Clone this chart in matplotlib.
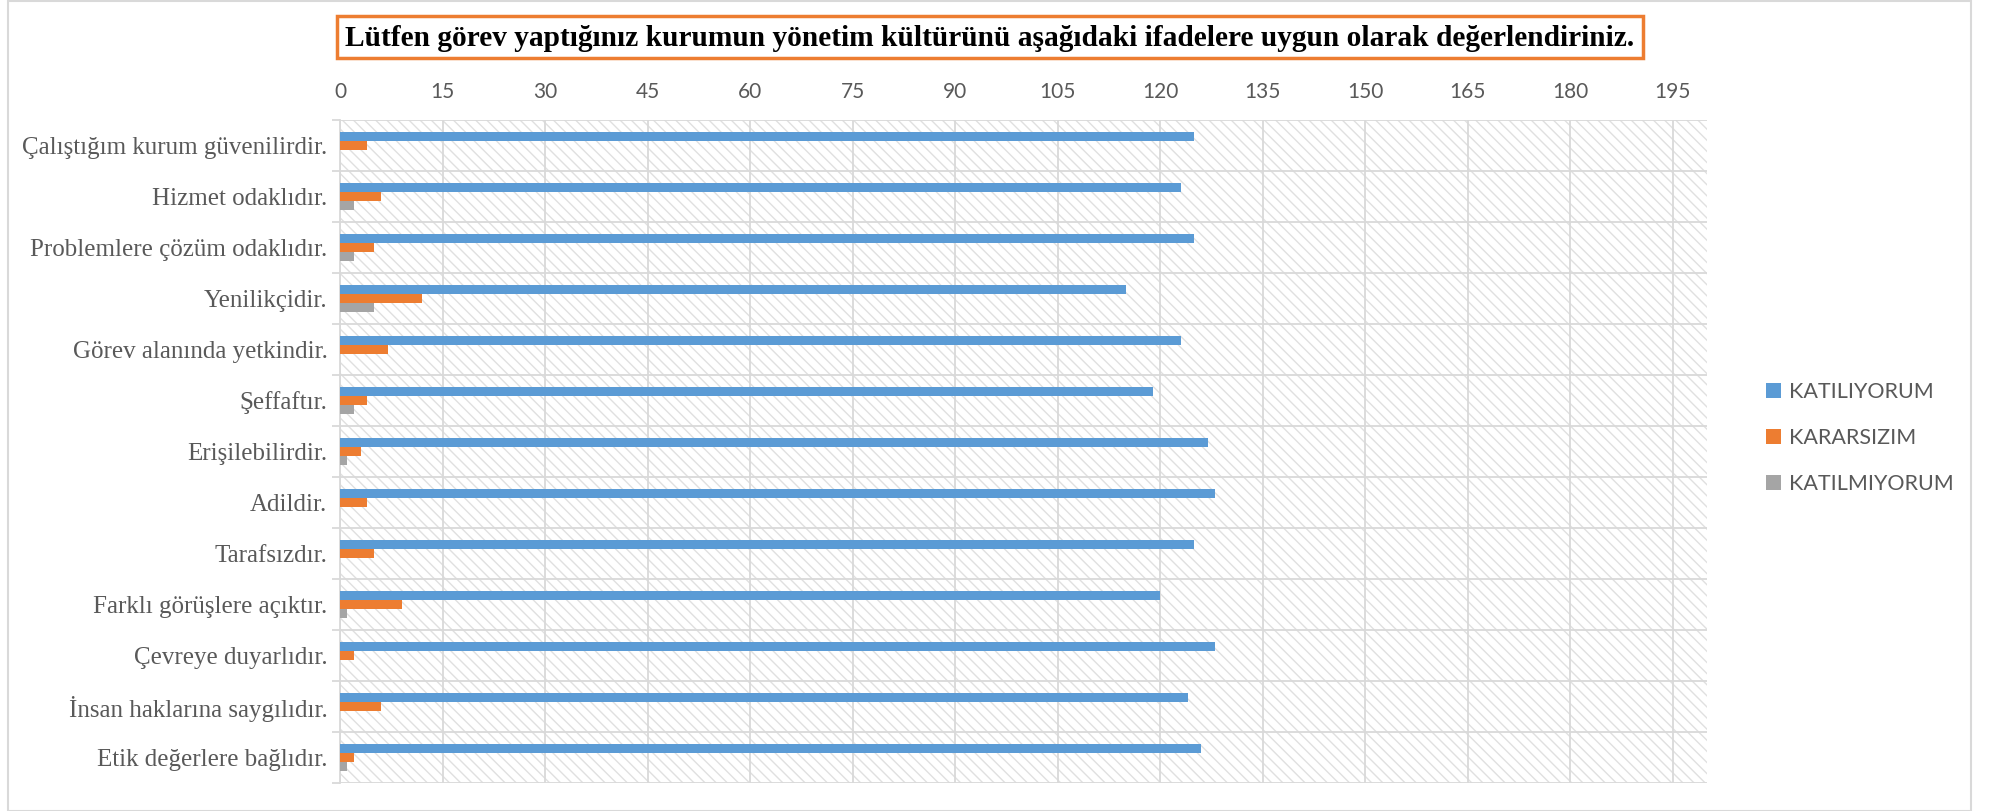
import numpy as np
import matplotlib.pyplot as plt
from matplotlib.patches import Rectangle

categories = [
    "Çalıştığım kurum güvenilirdir.",
    "Hizmet odaklıdır.",
    "Problemlere çözüm odaklıdır.",
    "Yenilikçidir.",
    "Görev alanında yetkindir.",
    "Şeffaftır.",
    "Erişilebilirdir.",
    "Adildir.",
    "Tarafsızdır.",
    "Farklı görüşlere açıktır.",
    "Çevreye duyarlıdır.",
    "İnsan haklarına saygılıdır.",
    "Etik değerlere bağlıdır.",
]
katiliyorum = [125, 123, 125, 115, 123, 119, 127, 128, 125, 120, 128, 124, 126]
kararsizim = [4, 6, 5, 12, 7, 4, 3, 4, 5, 9, 2, 6, 2]
katilmiyorum = [0, 2, 2, 5, 0, 2, 1, 0, 0, 1, 0, 0, 1]
series_names = ["KATILIYORUM", "KARARSIZIM", "KATILMIYORUM"]
xticks = list(range(0, 196, 15))

title = "Lütfen görev yaptığınız kurumun yönetim kültürünü aşağıdaki ifadelere uygun olarak değerlendiriniz."

colors = ["#5B9BD5", "#ED7D31", "#A5A5A5"]
grid_c = "#d9d9d9"
text_c = "#595959"

plt.rcParams["hatch.linewidth"] = 1.0

W, H = 1995, 811
fig = plt.figure(figsize=(W / 100, H / 100), dpi=100)

# chart border
fig.patches.append(Rectangle((8 / W, 0), 1963 / W, 810 / H, transform=fig.transFigure,
                             fill=False, edgecolor=grid_c, linewidth=1.5))

ax = fig.add_axes([340 / W, (H - 783) / H, (1707 - 340) / W, (783 - 120) / H])

# hatched plot area
ax.add_patch(Rectangle((0, 0), 1, 1, transform=ax.transAxes, facecolor="white",
                       edgecolor="#e0e0e0", hatch="\\\\\\", linewidth=0, zorder=0))

y = np.arange(len(categories))
h = 0.183
for vals, off, c, name in zip([katiliyorum, kararsizim, katilmiyorum], [-h, 0, h],
                              colors, series_names):
    ax.barh(y + off, vals, height=h, color=c, label=name, zorder=3)

ax.set_xlim(0, 200)
ax.set_ylim(len(categories) - 0.5, -0.5)

ax.xaxis.tick_top()
ax.set_xticks(xticks)
ax.tick_params(axis="x", length=0, pad=13, labelsize=15, labelcolor=text_c)
for lab in ax.get_xticklabels():
    lab.set_fontfamily("Lato")

ax.set_yticks(np.arange(-0.5, len(categories), 1))
ax.set_yticklabels([])
ax.set_yticks(y, minor=True)
ax.set_yticklabels(categories, minor=True, fontfamily="Liberation Serif", fontsize=18, color=text_c)
ax.tick_params(axis="y", which="major", length=6, width=1.3, color=grid_c)
ax.tick_params(axis="y", which="minor", length=0, pad=9)

ax.grid(True, axis="both", which="major", color=grid_c, linewidth=1.3, zorder=1)
ax.set_axisbelow(True)
for s in ["top", "right", "bottom"]:
    ax.spines[s].set_visible(False)
ax.spines["left"].set_color(grid_c)
ax.spines["left"].set_linewidth(1.3)

# title with orange box
fig.patches.append(Rectangle((337 / W, (H - 58) / H), (1643 - 337) / W, 42 / H,
                             transform=fig.transFigure, fill=False,
                             edgecolor="#ED7D31", linewidth=2.5))
fig.text(990 / W, (H - 38) / H, title, ha="center", va="center",
         fontfamily="Liberation Serif", fontweight="bold", fontsize=21.2, color="black")

leg = ax.legend(loc="center left", bbox_to_anchor=(1.029, 0.52), frameon=False,
                prop={"family": "Lato", "size": 15.5}, handlelength=0.7, handleheight=0.7,
                handletextpad=0.35, labelspacing=1.2, labelcolor=text_c)

fig.savefig("out.png", dpi=100)
